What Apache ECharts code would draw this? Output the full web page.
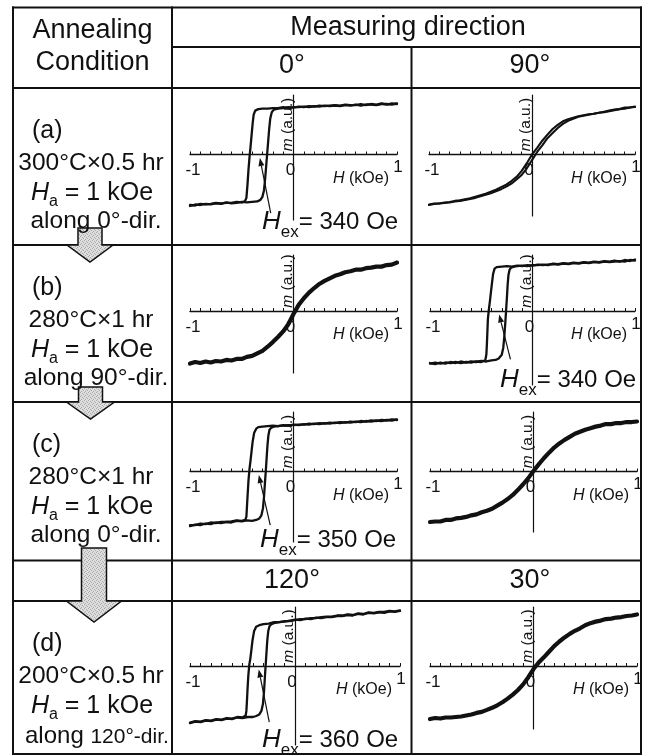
<!DOCTYPE html>
<html>
<head>
<meta charset="utf-8">
<script src="https://cdn.jsdelivr.net/npm/echarts/dist/echarts.min.js"></script>
<style>
  html, body { margin: 0; padding: 0; background: #fff; }
  #chart { width: 652px; height: 756px; }
</style>
</head>
<body>
<div id="chart"></div>
<script>
// ---------------------------------------------------------------------------
// Magnetisation loops m(H), H in kOe, m normalised (a.u.)
// Each loop: a descending branch (from +1 kOe down) and an ascending branch.
// ---------------------------------------------------------------------------

// (a) 300°C×0.5 hr, Ha along 0°, measured at 0°
const loopA0Down = [[1,1.00],[0.95,0.98],[0.9,0.99],[0.85,0.99],[0.8,0.97],[0.75,0.98],[0.7,0.98],[0.65,0.96],[0.6,0.98],[0.55,0.96],[0.5,0.97],[0.45,0.95],[0.4,0.96],[0.35,0.95],[0.3,0.96],[0.25,0.94],[0.2,0.95],[0.15,0.93],[0.1,0.94],[0.05,0.93],[0,0.93],[-0.05,0.91],[-0.1,0.93],[-0.15,0.91],[-0.2,0.91],[-0.25,0.90],[-0.3,0.90],[-0.34,0.89],[-0.37,0.86],[-0.385,0.78],[-0.395,0.60],[-0.405,0.38],[-0.415,0.15],[-0.425,-0.05],[-0.435,-0.30],[-0.445,-0.60],[-0.455,-0.85],[-0.47,-0.92],[-0.5,-0.94],[-0.55,-0.93],[-0.6,-0.95],[-0.65,-0.95],[-0.7,-0.96],[-0.75,-0.95],[-0.8,-0.97],[-0.85,-0.98],[-0.9,-0.97],[-0.95,-1.00],[-1,-0.99]];
const loopA0Up = [[-1,-1.01],[-0.95,-0.98],[-0.9,-0.99],[-0.85,-0.97],[-0.8,-0.98],[-0.75,-0.96],[-0.7,-0.97],[-0.65,-0.94],[-0.6,-0.96],[-0.55,-0.95],[-0.5,-0.93],[-0.45,-0.94],[-0.4,-0.93],[-0.35,-0.92],[-0.32,-0.89],[-0.3,-0.83],[-0.285,-0.70],[-0.275,-0.50],[-0.265,-0.25],[-0.255,0.00],[-0.245,0.25],[-0.235,0.50],[-0.225,0.70],[-0.21,0.83],[-0.19,0.88],[-0.15,0.90],[-0.1,0.91],[-0.05,0.93],[0,0.92],[0.05,0.94],[0.1,0.93],[0.15,0.95],[0.2,0.94],[0.25,0.96],[0.3,0.95],[0.35,0.96],[0.4,0.97],[0.45,0.96],[0.5,0.98],[0.55,0.97],[0.6,0.97],[0.65,0.99],[0.7,0.97],[0.75,0.99],[0.8,0.98],[0.85,1.00],[0.9,0.98],[0.95,1.00],[1,0.99]];

// (a) measured at 90°
const loopA90Down = [[1,0.94],[0.95,0.92],[0.9,0.92],[0.85,0.89],[0.8,0.88],[0.75,0.86],[0.7,0.84],[0.65,0.82],[0.6,0.80],[0.55,0.79],[0.5,0.77],[0.45,0.75],[0.4,0.72],[0.35,0.69],[0.3,0.65],[0.25,0.58],[0.2,0.50],[0.15,0.39],[0.1,0.27],[0.05,0.13],[0,0.00],[-0.05,-0.17],[-0.1,-0.32],[-0.15,-0.44],[-0.2,-0.52],[-0.25,-0.59],[-0.3,-0.64],[-0.35,-0.69],[-0.4,-0.73],[-0.45,-0.77],[-0.5,-0.80],[-0.55,-0.83],[-0.6,-0.86],[-0.65,-0.88],[-0.7,-0.90],[-0.75,-0.91],[-0.8,-0.93],[-0.85,-0.94],[-0.9,-0.96],[-0.95,-0.96],[-1,-0.98]];
const loopA90Up = [[-1,-0.99],[-0.95,-0.97],[-0.9,-0.96],[-0.85,-0.95],[-0.8,-0.94],[-0.75,-0.92],[-0.7,-0.91],[-0.65,-0.89],[-0.6,-0.87],[-0.55,-0.85],[-0.5,-0.82],[-0.45,-0.79],[-0.4,-0.76],[-0.35,-0.72],[-0.3,-0.68],[-0.25,-0.63],[-0.2,-0.57],[-0.15,-0.49],[-0.1,-0.40],[-0.05,-0.27],[0,-0.11],[0.05,0.05],[0.1,0.18],[0.15,0.32],[0.2,0.42],[0.25,0.52],[0.3,0.60],[0.35,0.66],[0.4,0.70],[0.45,0.74],[0.5,0.76],[0.55,0.78],[0.6,0.80],[0.65,0.82],[0.7,0.83],[0.75,0.85],[0.8,0.87],[0.85,0.89],[0.9,0.90],[0.95,0.92],[1,0.93]];

// (b) 280°C×1 hr, Ha along 90°, measured at 0°
const loopB0 = [[-1,-1.03],[-0.95,-1.00],[-0.9,-1.02],[-0.85,-0.99],[-0.8,-1.01],[-0.75,-0.98],[-0.7,-0.99],[-0.65,-0.96],[-0.6,-0.97],[-0.55,-0.94],[-0.5,-0.94],[-0.45,-0.90],[-0.4,-0.88],[-0.35,-0.83],[-0.3,-0.78],[-0.25,-0.70],[-0.2,-0.61],[-0.15,-0.51],[-0.1,-0.40],[-0.05,-0.26],[0,-0.06],[0.05,0.12],[0.1,0.25],[0.15,0.36],[0.2,0.45],[0.25,0.53],[0.3,0.59],[0.35,0.64],[0.4,0.69],[0.45,0.72],[0.5,0.76],[0.55,0.78],[0.6,0.81],[0.65,0.81],[0.7,0.84],[0.75,0.85],[0.8,0.87],[0.85,0.87],[0.9,0.90],[0.95,0.91],[1,0.95]];

// (b) measured at 90°
const loopB90Down = [[1,0.99],[0.95,1.00],[0.9,0.97],[0.85,0.98],[0.8,0.97],[0.75,0.96],[0.7,0.97],[0.65,0.95],[0.6,0.96],[0.55,0.94],[0.5,0.95],[0.45,0.93],[0.4,0.94],[0.35,0.92],[0.3,0.93],[0.25,0.91],[0.2,0.92],[0.15,0.91],[0.1,0.90],[0.05,0.91],[0,0.89],[-0.05,0.90],[-0.1,0.88],[-0.15,0.89],[-0.2,0.87],[-0.25,0.88],[-0.3,0.87],[-0.35,0.86],[-0.37,0.83],[-0.385,0.72],[-0.395,0.55],[-0.405,0.38],[-0.415,0.20],[-0.425,0.04],[-0.435,-0.15],[-0.44,-0.40],[-0.445,-0.65],[-0.45,-0.85],[-0.46,-0.96],[-0.5,-1.00],[-0.55,-0.99],[-0.6,-1.01],[-0.65,-1.00],[-0.7,-1.02],[-0.75,-1.00],[-0.8,-1.02],[-0.85,-1.01],[-0.9,-1.03],[-0.95,-1.01],[-1,-1.03]];
const loopB90Up = [[-1,-1.02],[-0.95,-1.04],[-0.9,-1.01],[-0.85,-1.03],[-0.8,-1.00],[-0.75,-1.02],[-0.7,-0.99],[-0.65,-1.01],[-0.6,-0.99],[-0.55,-1.00],[-0.5,-0.98],[-0.45,-0.99],[-0.4,-0.97],[-0.36,-0.96],[-0.33,-0.93],[-0.3,-0.86],[-0.285,-0.72],[-0.275,-0.50],[-0.265,-0.22],[-0.258,0.00],[-0.25,0.25],[-0.243,0.50],[-0.235,0.70],[-0.225,0.80],[-0.21,0.85],[-0.18,0.87],[-0.15,0.88],[-0.1,0.89],[-0.05,0.88],[0,0.90],[0.05,0.90],[0.1,0.91],[0.15,0.90],[0.2,0.93],[0.25,0.92],[0.3,0.94],[0.35,0.93],[0.4,0.95],[0.45,0.94],[0.5,0.96],[0.55,0.95],[0.6,0.97],[0.65,0.96],[0.7,0.98],[0.75,0.97],[0.8,0.99],[0.85,0.97],[0.9,1.00],[0.95,0.98],[1,1.01]];

// (c) 280°C×1 hr, Ha along 0°, measured at 0°
const loopC0Down = [[1,1.02],[0.95,1.00],[0.9,1.01],[0.85,0.99],[0.8,1.00],[0.75,0.98],[0.7,0.99],[0.65,0.97],[0.6,0.98],[0.55,0.96],[0.5,0.97],[0.45,0.95],[0.4,0.96],[0.35,0.94],[0.3,0.95],[0.25,0.93],[0.2,0.94],[0.15,0.92],[0.1,0.93],[0.05,0.91],[0,0.92],[-0.05,0.90],[-0.1,0.91],[-0.15,0.89],[-0.2,0.90],[-0.25,0.89],[-0.3,0.88],[-0.34,0.87],[-0.36,0.84],[-0.38,0.76],[-0.395,0.58],[-0.405,0.40],[-0.415,0.22],[-0.425,0.05],[-0.435,-0.18],[-0.443,-0.45],[-0.45,-0.70],[-0.455,-0.88],[-0.465,-0.95],[-0.5,-0.97],[-0.55,-0.96],[-0.6,-0.98],[-0.65,-0.99],[-0.7,-0.99],[-0.75,-1.01],[-0.8,-1.00],[-0.85,-1.03],[-0.9,-1.02],[-0.95,-1.05],[-1,-1.05]];
const loopC0Up = [[-1,-1.07],[-0.95,-1.04],[-0.9,-1.05],[-0.85,-1.02],[-0.8,-1.03],[-0.75,-1.00],[-0.7,-1.01],[-0.65,-0.99],[-0.6,-1.00],[-0.55,-0.97],[-0.5,-0.98],[-0.45,-0.96],[-0.4,-0.97],[-0.36,-0.95],[-0.33,-0.92],[-0.31,-0.86],[-0.295,-0.72],[-0.285,-0.50],[-0.275,-0.20],[-0.268,0.00],[-0.26,0.25],[-0.252,0.50],[-0.243,0.70],[-0.232,0.82],[-0.215,0.86],[-0.19,0.88],[-0.15,0.89],[-0.1,0.90],[-0.05,0.91],[0,0.91],[0.05,0.92],[0.1,0.92],[0.15,0.94],[0.2,0.93],[0.25,0.95],[0.3,0.94],[0.35,0.96],[0.4,0.95],[0.45,0.97],[0.5,0.96],[0.55,0.98],[0.6,0.97],[0.65,0.99],[0.7,0.98],[0.75,1.00],[0.8,0.99],[0.85,1.01],[0.9,1.00],[0.95,1.02],[1,1.01]];

// (c) measured at 90°
const loopC90 = [[-1,-0.99],[-0.95,-0.98],[-0.9,-0.98],[-0.85,-0.95],[-0.8,-0.95],[-0.75,-0.92],[-0.7,-0.91],[-0.65,-0.89],[-0.6,-0.86],[-0.55,-0.84],[-0.5,-0.80],[-0.45,-0.77],[-0.4,-0.73],[-0.35,-0.67],[-0.3,-0.61],[-0.25,-0.54],[-0.2,-0.46],[-0.15,-0.36],[-0.1,-0.25],[-0.05,-0.13],[0,0.01],[0.05,0.14],[0.1,0.26],[0.15,0.37],[0.2,0.47],[0.25,0.55],[0.3,0.62],[0.35,0.68],[0.4,0.74],[0.45,0.78],[0.5,0.82],[0.55,0.85],[0.6,0.88],[0.65,0.90],[0.7,0.93],[0.75,0.93],[0.8,0.95],[0.85,0.95],[0.9,0.97],[0.95,0.97],[1,0.98]];

// (d) 200°C×0.5 hr, Ha along 120°, measured at 120°
const loopD120Down = [[1,1.08],[0.95,1.06],[0.9,1.07],[0.85,1.04],[0.8,1.05],[0.75,1.03],[0.7,1.04],[0.65,1.01],[0.6,1.02],[0.55,0.99],[0.5,1.00],[0.45,0.98],[0.4,0.98],[0.35,0.96],[0.3,0.96],[0.25,0.94],[0.2,0.95],[0.15,0.92],[0.1,0.93],[0.05,0.90],[0,0.91],[-0.05,0.88],[-0.1,0.88],[-0.15,0.86],[-0.2,0.86],[-0.25,0.83],[-0.3,0.82],[-0.34,0.80],[-0.37,0.77],[-0.39,0.68],[-0.405,0.50],[-0.415,0.32],[-0.425,0.15],[-0.435,0.03],[-0.445,-0.20],[-0.452,-0.45],[-0.458,-0.70],[-0.463,-0.88],[-0.47,-0.97],[-0.5,-1.01],[-0.55,-1.00],[-0.6,-1.03],[-0.65,-1.02],[-0.7,-1.05],[-0.75,-1.04],[-0.8,-1.07],[-0.85,-1.06],[-0.9,-1.09],[-0.95,-1.08],[-1,-1.11]];
const loopD120Up = [[-1,-1.12],[-0.95,-1.09],[-0.9,-1.10],[-0.85,-1.07],[-0.8,-1.08],[-0.75,-1.05],[-0.7,-1.06],[-0.65,-1.03],[-0.6,-1.04],[-0.55,-1.01],[-0.5,-1.02],[-0.45,-1.00],[-0.4,-1.00],[-0.37,-0.98],[-0.34,-0.95],[-0.32,-0.88],[-0.305,-0.74],[-0.295,-0.50],[-0.287,-0.22],[-0.28,0.00],[-0.272,0.25],[-0.264,0.50],[-0.255,0.68],[-0.243,0.78],[-0.225,0.82],[-0.2,0.84],[-0.15,0.86],[-0.1,0.87],[-0.05,0.89],[0,0.90],[0.05,0.92],[0.1,0.92],[0.15,0.94],[0.2,0.94],[0.25,0.96],[0.3,0.97],[0.35,0.97],[0.4,0.99],[0.45,0.99],[0.5,1.01],[0.55,1.00],[0.6,1.03],[0.65,1.02],[0.7,1.05],[0.75,1.04],[0.8,1.06],[0.85,1.06],[0.9,1.08],[0.95,1.07],[1,1.09]];

// (d) measured at 30°
const loopD30 = [[-1,-1.04],[-0.95,-1.02],[-0.9,-1.03],[-0.85,-1.01],[-0.8,-1.01],[-0.75,-1.00],[-0.7,-0.99],[-0.65,-0.97],[-0.6,-0.95],[-0.55,-0.92],[-0.5,-0.90],[-0.45,-0.86],[-0.4,-0.82],[-0.35,-0.77],[-0.3,-0.71],[-0.25,-0.64],[-0.2,-0.56],[-0.15,-0.47],[-0.1,-0.36],[-0.05,-0.22],[0,-0.06],[0.05,0.07],[0.1,0.17],[0.15,0.28],[0.2,0.39],[0.25,0.48],[0.3,0.56],[0.35,0.63],[0.4,0.69],[0.45,0.74],[0.5,0.80],[0.55,0.84],[0.6,0.87],[0.65,0.89],[0.7,0.92],[0.75,0.93],[0.8,0.95],[0.85,0.96],[0.9,0.98],[0.95,0.99],[1,1.01]];

// Exchange-bias fields (Oe) quoted on the square loops
const hexA0 = 340, hexB90 = 340, hexC0 = 350, hexD120 = 360;

// Table text
const headerCondition = ['Annealing', 'Condition'];
const headerMeasuring = 'Measuring direction';
const measureDirs = [['0°', '90°'], ['120°', '30°']];
const stepLabels = ['(a)', '(b)', '(c)', '(d)'];
const annealTimes = ['300°C×0.5 hr', '280°C×1 hr', '280°C×1 hr', '200°C×0.5 hr'];
const annealField = '1 kOe';
const fieldDirs = ['0°', '90°', '0°', '120°'];
const tickLabels = ['-1', '0', '1'];
const xName = 'H', xUnit = ' (kOe)';
const yName = 'm', yUnit = ' (a.u.)';

// ---------------------------------------------------------------------------
// Layout
// ---------------------------------------------------------------------------
const INK = '#111';
const FONT = '"Liberation Sans", Arial, Helvetica, sans-serif';
const PX_PER_UNIT = 51;   // vertical pixels per unit of m

const panels = [
  { curves: [loopA0Down, loopA0Up],     lw: 2.3, box: { l: 190, r: 397, y0: 154.5, t: 95,  b: 220 }, hex: hexA0,   hexText: [262, 222], tail: [0.105, -1.15] },
  { curves: [loopA90Down, loopA90Up],   lw: 2.1, box: { l: 429, r: 635, y0: 154.5, t: 95,  b: 216 } },
  { curves: [loopB0],                   lw: 4.2, box: { l: 190, r: 397, y0: 311,   t: 255, b: 373 } },
  { curves: [loopB90Down, loopB90Up],   lw: 2.3, box: { l: 430, r: 635, y0: 311,   t: 255, b: 385 }, hex: hexB90,  hexText: [500, 380], tail: [0.11, -0.95] },
  { curves: [loopC0Down, loopC0Up],     lw: 2.3, box: { l: 190, r: 397, y0: 471.5, t: 412, b: 542 }, hex: hexC0,   hexText: [260, 540], tail: [0.11, -1.05] },
  { curves: [loopC90],                  lw: 4.2, box: { l: 430, r: 637, y0: 471.5, t: 412, b: 532 } },
  { curves: [loopD120Down, loopD120Up], lw: 2.3, box: { l: 190, r: 400, y0: 666,   t: 607, b: 745 }, hex: hexD120, hexText: [262, 740], tail: [0.10, -1.10] },
  { curves: [loopD30],                  lw: 4.2, box: { l: 430, r: 637, y0: 666,   t: 607, b: 729 } }
];

const chart = echarts.init(document.getElementById('chart'), null, { renderer: 'canvas', width: 652, height: 756 });

const option = {
  animation: false,
  backgroundColor: '#fff',
  grid: [], xAxis: [], yAxis: [], series: []
};

panels.forEach((p, i) => {
  const b = p.box;
  option.grid.push({ left: b.l, top: b.t, width: b.r - b.l, height: b.b - b.t, containLabel: false, show: false });
  option.xAxis.push({
    gridIndex: i, type: 'value', min: -1, max: 1, interval: 0.1,
    axisLine: { show: true, onZero: true, lineStyle: { color: INK, width: 1.3 } },
    axisTick: { show: true, inside: true, length: 3, lineStyle: { color: INK, width: 1 } },
    axisLabel: { show: false }, splitLine: { show: false }
  });
  option.yAxis.push({
    gridIndex: i, type: 'value',
    min: -(b.b - b.y0) / PX_PER_UNIT, max: (b.y0 - b.t) / PX_PER_UNIT,
    axisLine: { show: true, onZero: true, lineStyle: { color: INK, width: 1.2 } },
    axisTick: { show: false }, axisLabel: { show: false }, splitLine: { show: false }
  });
  p.curves.forEach(c => {
    option.series.push({
      type: 'line', xAxisIndex: i, yAxisIndex: i, data: c,
      showSymbol: false, symbol: 'none', silent: true, z: 3,
      lineStyle: { color: INK, width: p.lw, join: 'round', cap: 'round' }
    });
  });
});

chart.setOption(option);

// ---------------------------------------------------------------------------
// Table frame, text and annotations
// ---------------------------------------------------------------------------
const measureCtx = document.createElement('canvas').getContext('2d');
function measure(str, size, italic) {
  measureCtx.font = (italic ? 'italic ' : '') + size + 'px ' + FONT;
  return measureCtx.measureText(str).width;
}
function txt(x, y, text, size, opts) {
  opts = opts || {};
  const align = opts.align || 'center';
  const style = {
    text: text, fill: INK, fontSize: size, fontFamily: FONT,
    fontStyle: opts.italic ? 'italic' : 'normal',
    align: align, textAlign: align, verticalAlign: 'middle', textVerticalAlign: 'middle'
  };
  if (opts.rich) style.rich = opts.rich;
  return { type: 'text', x: x, y: y, rotation: opts.rotation || 0, z: 30, silent: true, style: style };
}
// Lay out text pieces on one line (used for subscripts)
function runs(x, y, parts, anchor) {
  const widths = parts.map(p => measure(p[0], p[1], p[2]));
  const total = widths.reduce((a, v) => a + v, 0);
  let cx = anchor === 'center' ? x - total / 2 : x;
  return parts.map((p, k) => {
    const el = txt(cx, y + (p[3] || 0), p[0], p[1], { italic: p[2], align: 'left' });
    cx += widths[k];
    return el;
  });
}
function hline(y, x1, x2, w) {
  return { type: 'line', z: 10, silent: true, shape: { x1: x1, y1: y, x2: x2, y2: y }, style: { stroke: INK, lineWidth: w || 2 } };
}
function vline(x, y1, y2, w) {
  return { type: 'line', z: 10, silent: true, shape: { x1: x, y1: y1, x2: x, y2: y2 }, style: { stroke: INK, lineWidth: w || 2 } };
}

// light stippled fill for the step arrows
const stipple = document.createElement('canvas');
stipple.width = 4; stipple.height = 4;
(function () {
  const c = stipple.getContext('2d');
  c.fillStyle = '#dedede'; c.fillRect(0, 0, 4, 4);
  c.fillStyle = '#a9a9a9';
  [[0, 0], [2, 1], [1, 3], [3, 2]].forEach(d => c.fillRect(d[0], d[1], 1, 1));
})();
function blockArrow(cx, shaftTop, shaftHalf, headTop, headHalf, tipY) {
  return {
    type: 'polygon', z: 15, silent: true,
    shape: { points: [[cx - shaftHalf, shaftTop], [cx - shaftHalf, headTop], [cx - headHalf, headTop], [cx, tipY],
                      [cx + headHalf, headTop], [cx + shaftHalf, headTop], [cx + shaftHalf, shaftTop]] },
    style: { fill: { type: 'pattern', image: stipple, repeat: 'repeat' }, stroke: INK, lineWidth: 1.5 }
  };
}

const L = 13, C1 = 172, C2 = 411.5, R = 641;
const T = 7.5, H1 = 47, H2 = 88, B = 754;
const rowTops = [88, 245, 402, 601];
const g = [];

// frame
[T, H2, 245, 402, 560.5, 601, B].forEach(y => g.push(hline(y, L - 1, R + 1)));
g.push(hline(H1, C1, R + 1));
g.push(vline(L, T - 1, B + 1));
g.push(vline(C1, T - 1, B + 1));
g.push(vline(C2, H1, B + 1));
g.push(vline(R, T - 1, B + 1));

// headers
g.push(txt(92.5, 31, headerCondition[0], 27));
g.push(txt(92.5, 63, headerCondition[1], 27));
g.push(txt(408, 28, headerMeasuring, 27));
g.push(txt(292, 66, measureDirs[0][0], 27));
g.push(txt(530, 66, measureDirs[0][1], 27));
g.push(txt(292, 581, measureDirs[1][0], 27));
g.push(txt(530, 581, measureDirs[1][1], 27));

// annealing conditions
rowTops.forEach((top, i) => {
  g.push(txt(32, top + 43, stepLabels[i], 25, { align: 'left' }));
  g.push(txt(91, top + 75, annealTimes[i], 24.5));
  g.push(...runs(92, top + 105, [['H', 25, true, 0], ['a', 16, false, 9], [' = ' + annealField, 25, false, 0]], 'center'));
  if (i === 3) {
    g.push(...runs(25, top + 135, [['along ', 24, false, 0], [fieldDirs[i] + '-dir.', 21, false, 1]], 'left'));
  } else {
    g.push(txt(96, top + 133, 'along ' + fieldDirs[i] + '-dir.', 24.5));
  }
});

// step arrows between rows
g.push(blockArrow(90, 228, 12, 245, 23, 262));
g.push(blockArrow(90.5, 387, 12, 402, 24, 419));
g.push(blockArrow(94, 548, 12.5, 601, 27.5, 622));

// per-panel axis text and exchange-bias markers
const richItalic = (size) => ({ i: { fontStyle: 'italic', fontSize: size, fontFamily: FONT, fill: INK } });
panels.forEach((p, i) => {
  const pix = (x, y) => chart.convertToPixel({ gridIndex: i }, [x, y]);
  const o = pix(0, 0), lft = pix(-1, 0), rgt = pix(1, 0);
  g.push(txt(lft[0] + 3, o[1] + 16, tickLabels[0], 17));
  g.push(txt(o[0] - 3, o[1] + 16, tickLabels[1], 17));
  g.push(txt(rgt[0] + 1, o[1] + 13, tickLabels[2], 17));
  g.push(txt(rgt[0] - 36, o[1] + 24, '{i|' + xName + '}' + xUnit, 16, { rich: richItalic(16) }));
  g.push(txt(o[0] - 6, o[1] - 30, '{i|' + yName + '}' + yUnit, 15.5, { rotation: Math.PI / 2, rich: richItalic(15.5) }));

  if (p.hex) {
    const tipH = -p.hex / 1000 + 0.015;
    const tip = pix(tipH, -0.07);
    const tail = pix(tipH + p.tail[0], p.tail[1]);
    const dx = tip[0] - tail[0], dy = tip[1] - tail[1];
    const len = Math.hypot(dx, dy), ux = dx / len, uy = dy / len;
    const hl = 8, hw = 3;
    const bx = tip[0] - ux * hl, by = tip[1] - uy * hl;
    g.push({ type: 'line', z: 25, silent: true, shape: { x1: tail[0], y1: tail[1], x2: bx, y2: by }, style: { stroke: INK, lineWidth: 1.2 } });
    g.push({ type: 'polygon', z: 25, silent: true,
      shape: { points: [[tip[0], tip[1]], [bx - uy * hw, by + ux * hw], [bx + uy * hw, by - ux * hw]] },
      style: { fill: INK } });
    g.push(...runs(p.hexText[0], p.hexText[1], [['H', 26, true, 0], ['ex', 17, false, 10], ['= ' + p.hex + ' Oe', 24, false, 0]], 'left'));
  }
});

chart.setOption({ graphic: { elements: g } });
</script>
</body>
</html>
